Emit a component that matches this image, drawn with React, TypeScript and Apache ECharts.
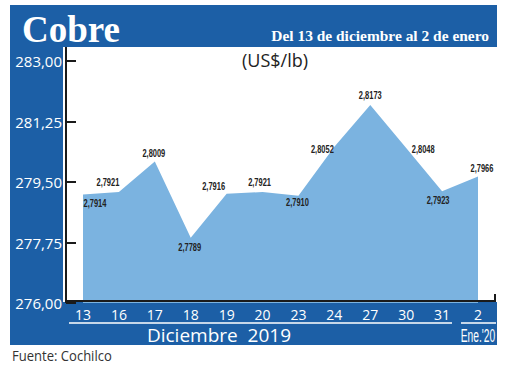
import React, { useEffect, useRef } from "react";
import * as echarts from "echarts";

// Data
const days = ["13", "16", "17", "18", "19", "20", "23", "24", "27", "30", "31", "2"];
const pricesUsdLb = [2.7914, 2.7921, 2.8009, 2.7789, 2.7916, 2.7921, 2.791, 2.8052, 2.8173, 2.8048, 2.7923, 2.7966];
const axisMinCents = 276;
const axisMaxCents = 283;
const axisStepCents = 1.75;

// label placement (styling)
const labelOffsets: number[][] = [
  [12, 8], [-11, -10], [-1, -9], [-1, 9], [-13, -8], [-3, -10],
  [-1, 6], [-12, 2], [0, -10], [17, 1], [-4, 9], [4, -9],
];

const BLUE = "#1c5fa6";
const AREA = "#7bb3e0";
const SANS = "'Open Sans', 'Noto Sans', sans-serif";

export default function App() {
  const ref = useRef<HTMLDivElement>(null);
  useEffect(() => {
    if (!ref.current) return;
    const chart = echarts.init(ref.current, null, { renderer: "svg" });
    const seriesData = pricesUsdLb.map((p) => +(p * 100 - axisMinCents).toFixed(4));
    const labelData = pricesUsdLb.map((p, i) => [i, +(p * 100 - axisMinCents).toFixed(4)]);
    chart.setOption({
      animation: false,
      backgroundColor: "#ffffff",
      grid: { left: 83, right: 42, top: 61, bottom: 65 },
      xAxis: {
        type: "category",
        data: days,
        boundaryGap: false,
        z: 10,
        axisLine: { show: false },
        axisTick: { show: false },
        axisLabel: { color: "#ffffff", fontSize: 14, fontFamily: SANS, margin: 4 },
        splitLine: { show: false },
      },
      yAxis: {
        type: "value",
        min: 0,
        max: axisMaxCents - axisMinCents,
        interval: axisStepCents,
        offset: 17,
        z: 10,
        axisLine: { show: false },
        axisTick: { show: true, inside: true, length: 10, lineStyle: { color: "#1a1a1a", width: 2 } },
        axisLabel: {
          color: "#ffffff",
          fontSize: 15,
          fontFamily: SANS,
          margin: 4,
          formatter: (v: number) => (v + axisMinCents).toFixed(2).replace(".", ","),
        },
        splitLine: { show: false },
      },
      series: [
        {
          type: "line",
          data: seriesData,
          symbol: "none",
          lineStyle: { width: 0, color: AREA },
          areaStyle: { color: AREA, opacity: 1 },
          z: 2,
        },
        {
          type: "custom",
          data: labelData,
          z: 5,
          renderItem: (params: any, api: any) => {
            const i = params.dataIndex;
            const pt = api.coord([api.value(0), api.value(1)]);
            const off = labelOffsets[i];
            return {
              type: "text",
              x: pt[0] + off[0],
              y: pt[1] + off[1],
              scaleX: 0.68,
              style: {
                text: pricesUsdLb[i].toFixed(4).replace(".", ","),
                fill: "#222222",
                font: "bold 11px 'Liberation Sans', Arial, sans-serif",
                align: "center",
                verticalAlign: "middle",
              },
            };
          },
        },
      ],
      graphic: {
        elements: [
          { type: "rect", z: 0, shape: { x: 10, y: 5, width: 487, height: 42 }, style: { fill: BLUE } },
          { type: "rect", z: 0, shape: { x: 10, y: 47, width: 53, height: 298 }, style: { fill: BLUE } },
          { type: "rect", z: 0, shape: { x: 10, y: 302, width: 487, height: 43 }, style: { fill: BLUE } },
          {
            type: "text", z: 20, x: 22, y: 48,
            style: { text: "Cobre", fill: "#ffffff", font: "bold 37px 'Liberation Serif', serif", verticalAlign: "bottom" },
          },
          {
            type: "text", z: 20, x: 489, y: 43, scaleX: 1.03,
            style: { text: "Del 13 de diciembre al 2 de enero", fill: "#ffffff", font: "bold 15px 'Liberation Serif', serif", align: "right", verticalAlign: "bottom" },
          },
          {
            type: "text", z: 20, x: 275, y: 60,
            style: { text: "(US$/lb)", fill: "#222222", font: `18px ${SANS}`, align: "center", verticalAlign: "middle" },
          },
          { type: "line", z: 20, shape: { x1: 66, y1: 47, x2: 66, y2: 303 }, style: { stroke: "#1a1a1a", lineWidth: 2 } },
          { type: "line", z: 20, shape: { x1: 65, y1: 301, x2: 496, y2: 301 }, style: { stroke: "#1a1a1a", lineWidth: 2 } },
          { type: "line", z: 20, shape: { x1: 495, y1: 294, x2: 495, y2: 302 }, style: { stroke: "#1a1a1a", lineWidth: 2 } },
          { type: "line", z: 20, shape: { x1: 69, y1: 323, x2: 452, y2: 323 }, style: { stroke: "#ffffff", lineWidth: 1.5 } },
          { type: "line", z: 20, shape: { x1: 461, y1: 323, x2: 496, y2: 323 }, style: { stroke: "#ffffff", lineWidth: 1.5 } },
          {
            type: "text", z: 20, x: 219, y: 335,
            style: { text: "Diciembre  2019", fill: "#ffffff", font: `19px ${SANS}`, align: "center", verticalAlign: "middle" },
          },
          {
            type: "text", z: 20, x: 478, y: 335, scaleX: 0.54,
            style: { text: "Ene.'20", fill: "#ffffff", font: "19px 'Liberation Sans', Arial, sans-serif", align: "center", verticalAlign: "middle" },
          },
          {
            type: "text", z: 20, x: 12, y: 355, scaleX: 0.87,
            style: { text: "Fuente: Cochilco", fill: "#333333", font: `15px ${SANS}`, align: "left", verticalAlign: "middle" },
          },
        ],
      },
    });
    return () => chart.dispose();
  }, []);
  return <div ref={ref} style={{ position: "fixed", left: 0, top: 0, width: 520, height: 368 }} />;
}
